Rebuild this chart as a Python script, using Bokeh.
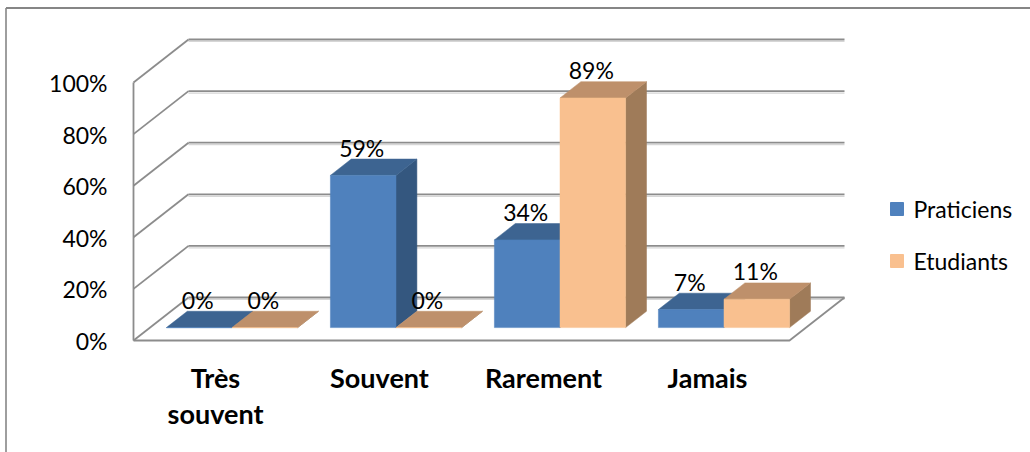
from bokeh.plotting import figure
from bokeh.models import Range1d
from bokeh.core.properties import value
from bokeh.embed import file_html
from bokeh.resources import INLINE

# --- data -------------------------------------------------------------
categories = ["Très\nsouvent", "Souvent", "Rarement", "Jamais"]
series_names = ["Praticiens", "Etudiants"]
praticiens = [0, 59, 34, 7]
etudiants = [0, 0, 89, 11]
y_ticks = [0, 20, 40, 60, 80, 100]
y_tick_labels = ["0%", "20%", "40%", "60%", "80%", "100%"]

# --- styling ----------------------------------------------------------
FONT = "Lato"
GRID = "#8c8c8c"
GRID_SHADOW = "#d6d6d6"
FACE = {
    "Praticiens": ("#4f81bd", "#3d6491", "#34577f"),   # front, top, side
    "Etudiants": ("#f9c08f", "#be906b", "#9f7b59"),
}

W, H = 1030, 452
ORIGIN_X, ORIGIN_Y = 133, 340      # front-left corner of the floor (px)
CAT_PX = 164.0                      # width of one category (px)
PCT_PX = 2.58                       # height of one percent (px)
DEPTH_X, DEPTH_Y = 55, 43           # oblique depth of the box (px)

dx = DEPTH_X / CAT_PX
dy = DEPTH_Y / PCT_PX
n = len(categories)


def px_x(px):
    return (px - ORIGIN_X) / CAT_PX


def px_y(py):
    return (ORIGIN_Y - py) / PCT_PX


p = figure(width=W, height=H, output_backend="svg", toolbar_location=None,
           x_range=Range1d(px_x(0), px_x(W)), y_range=Range1d(px_y(H), px_y(0)),
           min_border=0)
p.axis.visible = False
p.grid.visible = False
p.outline_line_color = None
p.background_fill_color = "white"
p.border_fill_color = "white"

# outer chart border (top and left edges)
p.line([px_x(5.5), px_x(W)], [px_y(7.5), px_y(7.5)], line_color="#868686", line_width=2)
p.line([px_x(5.5), px_x(5.5)], [px_y(7.5), px_y(H)], line_color="#868686", line_width=1.6)

# --- walls and floor --------------------------------------------------
back_xs, back_ys, shade_ys, side_xs, side_ys = [], [], [], [], []
shade = 2.0 / PCT_PX
for t in y_ticks:
    back_xs.append([dx, n + dx])
    back_ys.append([t + dy, t + dy])
    shade_ys.append([t + dy - shade, t + dy - shade])
    side_xs.append([0, dx])
    side_ys.append([t, t + dy])
p.multi_line(back_xs, shade_ys, line_color=GRID_SHADOW, line_width=1.2)
p.multi_line(back_xs, back_ys, line_color=GRID, line_width=1.8)
p.multi_line(side_xs, side_ys, line_color=GRID, line_width=1.8)
p.line([0, 0], [y_ticks[0], y_ticks[-1]], line_color=GRID, line_width=1.8)
p.line([0, n, n + dx], [0, 0, dy], line_color=GRID, line_width=1.8)

# --- 3D columns -------------------------------------------------------
GAP, BW = 0.1, 0.4
F_DEPTH, B_DEPTH = 0.30, 0.68
ddx = (B_DEPTH - F_DEPTH) * dx
ddy = (B_DEPTH - F_DEPTH) * dy

label_x, label_y, label_t = [], [], []
for s, (name, vals) in enumerate(zip(series_names, [praticiens, etudiants])):
    fx, fy, tx, ty, sx, sy = [], [], [], [], [], []
    for i, v in enumerate(vals):
        x0 = i + GAP + s * BW + F_DEPTH * dx
        x1 = x0 + BW
        yb = F_DEPTH * dy
        yt = v + yb
        fx.append([x0, x1, x1, x0]); fy.append([yb, yb, yt, yt])
        tx.append([x0, x1, x1 + ddx, x0 + ddx]); ty.append([yt, yt, yt + ddy, yt + ddy])
        sx.append([x1, x1 + ddx, x1 + ddx, x1]); sy.append([yb, yb + ddy, yt + ddy, yt])
        label_x.append((x0 + x1) / 2 - 1.5 / CAT_PX)
        label_y.append(yt + ddy + 11.5 / PCT_PX)
        label_t.append(f"{v}%")
    front, top, side = FACE[name]
    p.patches(sx, sy, fill_color=side, line_color=side, line_width=0.5)
    p.patches(tx, ty, fill_color=top, line_color=top, line_width=0.5)
    p.patches(fx, fy, fill_color=front, line_color=front, line_width=0.5)

p.text(label_x, label_y, text=label_t, text_font=value(FONT), text_font_size="23px",
       text_align="center", text_baseline="alphabetic", text_color="#000000")

# --- axis labels ------------------------------------------------------
p.text([px_x(107)] * len(y_ticks), [t - 0.5 / PCT_PX for t in y_ticks], text=y_tick_labels,
       text_font=value(FONT), text_font_size="23px", text_align="right",
       text_baseline="middle", text_color="#000000")

p.text([i + 0.5 for i in range(n)], [px_y(360)] * n, text=categories,
       text_font=value(FONT), text_font_size="27px", text_font_style="bold",
       text_align="center", text_baseline="top", text_line_height=1.12,
       text_color="#000000")

# --- legend -----------------------------------------------------------
leg_y = [208.5, 260.5]
p.scatter([px_x(896.5)] * 2, [px_y(v) for v in leg_y], marker="square", size=13,
          fill_color=[FACE[s][0] for s in series_names],
          line_color=[FACE[s][0] for s in series_names])
p.text([px_x(913)] * 2, [px_y(v) for v in leg_y], text=series_names,
       text_font=value(FONT), text_font_size="23px", text_align="left",
       text_baseline="middle", text_color="#000000")

open("out.html", "w").write(file_html(p, INLINE))
